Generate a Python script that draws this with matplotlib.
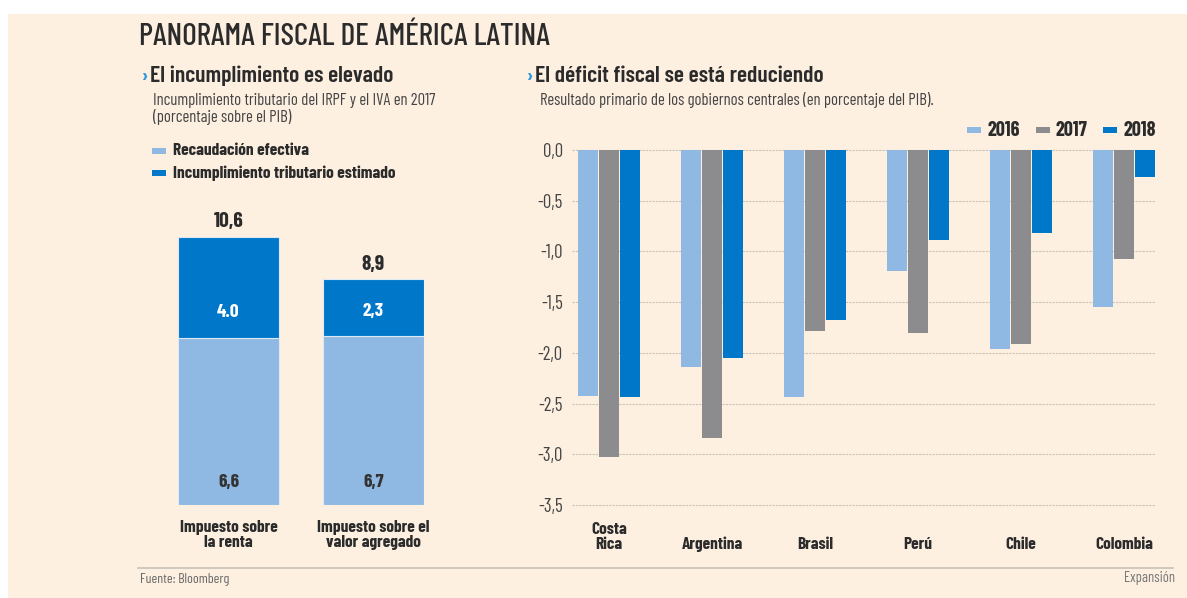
import matplotlib
matplotlib.use("Agg")
import matplotlib.pyplot as plt
from matplotlib.patches import Rectangle
import numpy as np

W, H = 1187, 598
BG = "#fdf0e1"
LIGHT = "#8fb8e3"
GREY = "#8c8c8e"
DARK = "#0077c8"
INK = "#2b2b2b"
FONT = ["Barlow Condensed", "DejaVu Sans"]

# left panel: income tax vs VAT, 2017 (% of GDP)
tax_types = ["Impuesto sobre\nla renta", "Impuesto sobre el\nvalor agregado"]
recaudacion = [6.6, 6.66]
incumplimiento = [4.0, 2.26]
incumplimiento_labels = ["4.0", "2,3"]

# right panel: primary balance of central governments (% of GDP)
countries = ["Costa\nRica", "Argentina", "Brasil", "Perú", "Chile", "Colombia"]
years = ["2016", "2017", "2018"]
balance_2016 = [-2.43, -2.14, -2.44, -1.19, -1.96, -1.55]
balance_2017 = [-3.03, -2.84, -1.78, -1.80, -1.91, -1.07]
balance_2018 = [-2.44, -2.05, -1.68, -0.89, -0.82, -0.27]
y_ticks = [0.0, -0.5, -1.0, -1.5, -2.0, -2.5, -3.0, -3.5]

plt.rcParams["font.family"] = FONT


def fx(px):
    return px / W


def fy(py):
    return 1 - py / H


def comma(v):
    return f"{v:.1f}".replace(".", ",")


fig = plt.figure(figsize=(W / 100, H / 100), dpi=100)
fig.patch.set_facecolor("white")
fig.patches.append(Rectangle((fx(8), 0), 1 - fx(8), fy(14), transform=fig.transFigure,
                             facecolor=BG, edgecolor="none", zorder=-10))

# headings
fig.text(fx(139), fy(37), "PANORAMA FISCAL DE AMÉRICA LATINA", fontsize=22.5,
         color=INK, fontweight=500, va="center", ha="left")
for x0, title in [(142, "El incumplimiento es elevado"), (527, "El déficit fiscal se está reduciendo")]:
    fig.text(fx(x0), fy(76), "›", fontsize=15, color="#2f9ae0", fontweight="bold", va="center")
    fig.text(fx(x0 + 8), fy(76), title, fontsize=17, color=INK, fontweight=600, va="center")
fig.text(fx(153), fy(100), "Incumplimiento tributario del IRPF y el IVA en 2017",
         fontsize=12, color="#444444", va="center")
fig.text(fx(153), fy(117), "(porcentaje sobre el PIB)", fontsize=12, color="#444444", va="center")
fig.text(fx(540), fy(100), "Resultado primario de los gobiernos centrales (en porcentaje del PIB).",
         fontsize=12, color="#444444", va="center")

# left legend
for py, col, label in [(151, LIGHT, "Recaudación efectiva"),
                       (173, DARK, "Incumplimiento tributario estimado")]:
    fig.patches.append(Rectangle((fx(152), fy(py + 3)), fx(14), 6 / H, transform=fig.transFigure,
                                 facecolor=col, edgecolor="none"))
    fig.text(fx(173), fy(py), label, fontsize=12.5, color=INK, fontweight="bold", va="center")

# right legend
for px, col, label in [(967, LIGHT, years[0]), (1036, GREY, years[1]), (1103, DARK, years[2])]:
    fig.patches.append(Rectangle((fx(px), fy(133)), fx(14), 6 / H, transform=fig.transFigure,
                                 facecolor=col, edgecolor="none"))
    fig.text(fx(px + 20), fy(130), label, fontsize=14.5, color=INK, fontweight="bold", va="center")

# stacked bars
ax1 = fig.add_axes([fx(177.75), fy(505), fx(246.5), (505 - 236.7) / H])
ax1.set_facecolor("none")
xl = np.arange(len(tax_types))
total = [r + i for r, i in zip(recaudacion, incumplimiento)]
ax1.bar(xl, recaudacion, width=0.7, color=LIGHT, edgecolor="#dfe9f3", linewidth=0.8)
ax1.bar(xl, incumplimiento, bottom=recaudacion, width=0.7, color=DARK,
        edgecolor="#dfe9f3", linewidth=0.8)
for i in xl:
    ax1.text(i, total[i] + 0.6, comma(total[i]), ha="center", va="center",
             fontsize=15.5, fontweight="bold", color=INK)
    ax1.text(i, recaudacion[i] + 1.0, incumplimiento_labels[i], ha="center", va="center",
             fontsize=14, fontweight="bold", color="white")
    ax1.text(i, 0.87, comma(recaudacion[i]), ha="center", va="center",
             fontsize=14, fontweight="bold", color="#333333")
    ax1.text(i, -0.58, tax_types[i], ha="center", va="top", fontsize=12.5,
             fontweight="bold", color=INK, linespacing=1.05)
ax1.set_xlim(-0.35, 1.35)
ax1.set_ylim(0, 10.6)
ax1.axis("off")

# grouped bars
ax2 = fig.add_axes([fx(572), fy(505), fx(583), (505 - 150) / H])
ax2.set_facecolor("none")
xr = np.arange(len(countries))
step = 0.205
for k, (vals, col) in enumerate([(balance_2016, LIGHT), (balance_2017, GREY), (balance_2018, DARK)]):
    ax2.bar(xr + (k - 1) * step, vals, width=0.19, color=col, edgecolor="none", zorder=3)
ax2.set_xlim(-0.36, 5.3)
ax2.set_ylim(-3.5, 0)
ax2.set_yticks(y_ticks)
ax2.set_yticklabels([comma(t) for t in y_ticks])
ax2.grid(axis="y", color="#c9c2b8", linestyle=(0, (2, 1)), linewidth=0.8, zorder=0)
for gl in ax2.get_ygridlines():
    gl.set_clip_on(False)
ax2.tick_params(axis="y", length=0, pad=6.5, labelsize=13.5, labelcolor="#444444")
ax2.set_xticks(xr)
ax2.set_xticklabels([])
ax2.tick_params(axis="x", length=0)
for i, name in enumerate(countries):
    ax2.text(i, -3.93, name, ha="center", va="baseline", fontsize=12.5, fontweight="bold",
             color=INK, linespacing=1.0)
for s in ax2.spines.values():
    s.set_visible(False)

# footer
fig.add_artist(plt.Line2D([fx(138), fx(1173)], [fy(568), fy(568)], color="#c8c2ba",
                          linewidth=1.2, transform=fig.transFigure))
fig.text(fx(140), fy(580), "Fuente: Bloomberg", fontsize=10, color="#666666", va="center")
fig.text(fx(1175), fy(578), "Expansión", fontsize=10.5, color="#777777", va="center", ha="right")

fig.savefig("out.png", dpi=100, facecolor=fig.get_facecolor())
